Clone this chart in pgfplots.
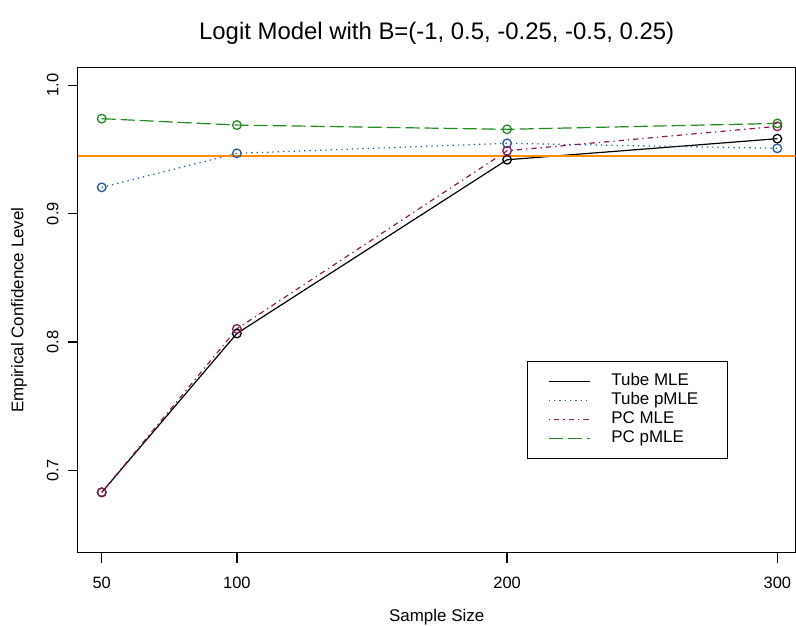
\documentclass[border=0pt]{standalone}
\usepackage{pgfplots}
\pgfplotsset{compat=1.18}
\usepackage{fontspec}
\setmainfont{Liberation Sans}
\definecolor{cblue}{HTML}{1F5A9C}
\definecolor{cpurp}{HTML}{8B1A55}
\definecolor{cgreen}{HTML}{228B22}
\definecolor{corange}{HTML}{FF8C00}
\begin{document}
\begin{tikzpicture}
\begin{axis}[
 at={(0,0)}, anchor=south west,
 scale only axis, width=718bp, height=485.4bp,
 xmin=41.1, xmax=306.8, ymin=0.636, ymax=1.014,
 axis line style={line width=1.3bp},
 xtick={50,100,200,300}, ytick={0.7,0.8,0.9,1.0},
 yticklabels={0.7,0.8,0.9,1.0},
 tick align=outside, xtick pos=bottom, ytick pos=left,
 major tick length=10bp, tick style={line width=1.3bp, black},
 /pgf/number format/assume math mode=true,
 ticklabel style={font=\fontsize{16.5}{19}\selectfont},
 every x tick label/.append style={anchor=center, yshift=-20bp},
 every y tick label/.append style={anchor=center, xshift=-15bp, rotate=90},
 xlabel={Sample Size}, ylabel={Empirical Confidence Level},
 every axis x label/.style={at={(rel axis cs:0.5,0)}, anchor=center, yshift=-64bp, font=\fontsize{17}{20}\selectfont},
 every axis y label/.style={at={(rel axis cs:0,0.5)}, anchor=center, xshift=-58.7bp, rotate=90, font=\fontsize{17}{20}\selectfont},
 title={Logit Model with B=(-1, 0.5, -0.25, -0.5, 0.25)},
 every axis title/.style={at={(rel axis cs:0.5,1)}, anchor=center, yshift=34bp, font=\fontsize{24}{28}\selectfont},
 legend cell align=left,
 legend image code/.code={\draw[#1] (0bp,0bp) -- (41bp,0bp);},
 legend style={at={(rel axis cs:0.6253,0.395)}, anchor=north west, draw=black, line width=1bp,
   inner xsep=21bp, inner ysep=12bp, row sep=3bp,
   nodes={inner sep=0bp, text height=12bp, text depth=4bp, font=\fontsize{17}{20}\selectfont},
   /tikz/every odd column/.append style={column sep=21bp}},
]
\addplot[black, line width=1.2bp, mark=o, mark size=4.3bp, mark options={solid, line width=1.3bp}, forget plot]
 coordinates {(50,0.683) (100,0.8067) (200,0.942) (300,0.9584)};
\addplot[cblue, line width=1.2bp, dash pattern=on 1.3bp off 4bp, mark=o, mark size=4.3bp, mark options={solid, line width=1.3bp}, forget plot]
 coordinates {(50,0.9205) (100,0.947) (200,0.9548) (300,0.9509)};
\addplot[cpurp, line width=1.2bp, dash pattern=on 1.3bp off 4bp on 5.3bp off 4bp, mark=o, mark size=4.3bp, mark options={solid, line width=1.3bp}, forget plot]
 coordinates {(50,0.683) (100,0.8103) (200,0.949) (300,0.968)};
\addplot[cgreen, line width=1.2bp, dash pattern=on 14bp off 5bp, mark=o, mark size=4.3bp, mark options={solid, line width=1.3bp}, forget plot]
 coordinates {(50,0.974) (100,0.969) (200,0.9657) (300,0.9703)};
\addplot[corange, line width=1.3bp, forget plot] coordinates {(41.1,0.945) (306.8,0.945)};
\addlegendimage{black, line width=1.2bp}
\addlegendentry{\makebox[95bp][l]{Tube MLE}}
\addlegendimage{cblue, line width=1.2bp, dash pattern=on 1.3bp off 4bp}
\addlegendentry{\makebox[95bp][l]{Tube pMLE}}
\addlegendimage{cpurp, line width=1.2bp, dash pattern=on 1.3bp off 4bp on 5.3bp off 4bp}
\addlegendentry{\makebox[95bp][l]{PC MLE}}
\addlegendimage{cgreen, line width=1.2bp, dash pattern=on 14bp off 5bp}
\addlegendentry{\makebox[95bp][l]{PC pMLE}}
\end{axis}
\pgfresetboundingbox
\path (-77.7bp,-73.3bp) rectangle (718.3bp,552.7bp);
\end{tikzpicture}
\end{document}
